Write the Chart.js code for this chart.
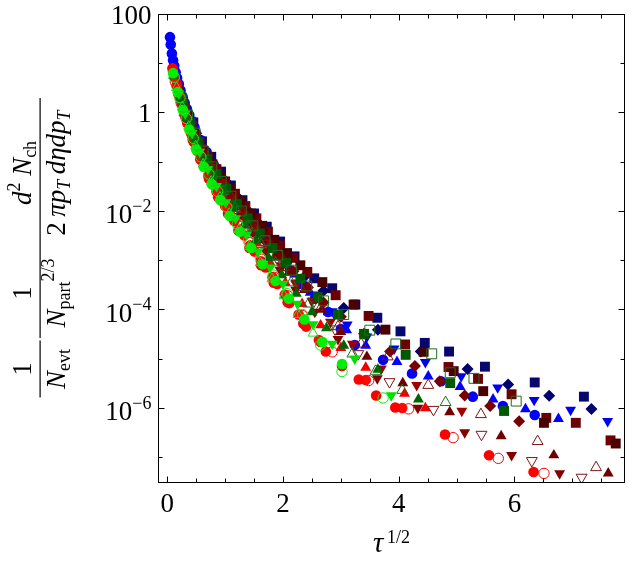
<!DOCTYPE html>
<html>
<head>
<meta charset="utf-8">
<script src="https://cdn.jsdelivr.net/npm/chart.js@4"></script>
<style>
  body { margin: 0; background: #fff; }
  canvas { display: block; }
</style>
</head>
<body>
<canvas id="chart" width="633" height="564"></canvas>
<script>
// tick positions and labels
const xTickValues = [0, 0.5, 1, 1.5, 2, 2.5, 3, 3.5, 4, 4.5, 5, 5.5, 6, 6.5, 7, 7.5];
const xTickLabels = [0, 2, 4, 6];
const yTickExps = [2, 1, 0, -1, -2, -3, -4, -5, -6, -7];
const yLabelExps = [2, 0, -2, -4, -6];

// [tau^(1/2), scaled yield]
const navySquare = [[0.45,0.63],[0.6,0.26],[0.76,0.126],[0.93,0.063],[1.1,0.033],[1.3,0.0166],[1.5,8.9e-3],[1.72,4.8e-3],[1.95,2.4e-3],[2.2,1.2e-3],[2.54,4.3e-4],[2.85,2.7e-4],[3.25,1.26e-4],[3.63,6.8e-5],[4.03,3.6e-5],[4.45,2.1e-5],[4.87,1.4e-5],[5.49,6.9e-6],[6.35,3.3e-6],[7.2,1.7e-6]];
const navyDiamond = [[0.35,1.0],[0.5,0.38],[0.66,0.166],[0.83,0.079],[1.01,0.04],[1.2,0.02],[1.4,0.01],[1.62,5.0e-3],[1.85,2.5e-3],[2.1,1.2e-3],[2.4,5.0e-4],[2.7,2.4e-4],[3.05,1.07e-4],[3.64,3.9e-5],[4.38,1.4e-5],[5.19,6.2e-6],[5.89,3.0e-6],[6.6,1.78e-6],[7.33,9.5e-7]];
const blueCircle = [[0.047,33.9],[0.06,24],[0.08,15.8],[0.1,11.5],[0.12,8.9],[0.145,6.6],[0.17,5.0],[0.2,3.8],[0.23,2.8],[0.265,2.1],[0.3,1.58],[0.34,1.18],[0.38,0.89],[0.42,0.67],[0.47,0.5],[0.57,0.28],[0.68,0.158],[0.8,0.089],[0.93,0.05],[1.07,0.028],[1.22,0.0158],[1.38,8.5e-3],[1.55,4.5e-3],[1.73,2.4e-3],[1.92,1.26e-3],[2.12,6.3e-4],[2.33,3.3e-4],[2.55,1.66e-4],[2.78,8.9e-5],[3.0,4.0e-5],[3.24,1.9e-5],[3.73,9.5e-6],[4.23,5.0e-6],[4.73,3.5e-6],[5.28,1.7e-6],[5.8,1.1e-6],[6.35,7.2e-7]];
const blueUp = [[0.1,7.9],[0.2,2.8],[0.32,1.12],[0.45,0.42],[0.6,0.178],[0.76,0.079],[0.93,0.04],[1.1,0.021],[1.3,0.0105],[1.5,5.2e-3],[1.72,2.5e-3],[1.95,1.2e-3],[2.2,5.2e-4],[2.47,2.2e-4],[2.78,8.9e-5],[3.1,3.8e-5],[3.43,1.86e-5],[3.97,8.7e-6],[4.51,4.4e-6],[5.06,2.7e-6],[5.63,1.5e-6],[6.19,9.5e-7],[6.76,6.0e-7]];
const blueDown = [[0.15,5.0],[0.27,1.78],[0.4,0.71],[0.55,0.28],[0.71,0.12],[0.88,0.056],[1.06,0.028],[1.25,0.014],[1.45,7.1e-3],[1.66,3.5e-3],[1.88,1.78e-3],[2.1,8.9e-4],[2.33,4.5e-4],[2.58,2.0e-4],[2.85,9.1e-5],[3.11,4.9e-5],[3.45,2.8e-5],[3.92,1.6e-5],[4.46,8.5e-6],[5.08,4.4e-6],[5.71,2.6e-6],[6.34,1.45e-6],[6.97,9.1e-7],[7.61,5.4e-7]];
const darkRedSquareA = [[0.3,1.26],[0.42,0.56],[0.56,0.25],[0.7,0.126],[0.85,0.071],[1.0,0.04],[1.17,0.0224],[1.35,0.0126],[1.54,7.1e-3],[1.74,3.8e-3],[1.95,2.0e-3],[2.18,1.12e-3],[2.42,5.8e-4],[2.91,1.95e-4],[3.48,7.4e-5],[4.11,1.95e-5],[4.86,6.8e-6],[5.37,3.9e-6],[5.95,1.9e-6],[6.55,6.3e-7],[7.06,5.0e-7],[7.66,2.2e-7]];
const darkRedSquareB = [[0.36,0.79],[0.49,0.355],[0.63,0.166],[0.78,0.089],[0.93,0.05],[1.09,0.028],[1.26,0.0158],[1.45,8.9e-3],[1.64,5.0e-3],[1.85,2.6e-3],[2.07,1.4e-3],[2.3,7.9e-4],[2.68,3.6e-4],[3.22,1.26e-4],[3.77,3.9e-5],[4.43,1.38e-5],[4.95,5.6e-6],[5.46,2.2e-6],[6.51,5.0e-7],[7.75,1.9e-7]];
const darkRedDiamond = [[0.2,3.2],[0.33,1.05],[0.47,0.38],[0.62,0.158],[0.78,0.076],[0.95,0.038],[1.13,0.019],[1.32,9.5e-3],[1.52,4.8e-3],[1.73,2.4e-3],[1.95,1.2e-3],[2.18,6.0e-4],[2.43,2.8e-4],[2.7,1.38e-4],[3.0,7.1e-5],[3.4,3.2e-5],[3.85,1.4e-5],[4.28,7.1e-6],[4.71,3.5e-6],[5.14,1.8e-6],[5.58,1.1e-6],[6.08,5.4e-7]];
const darkRedUp = [[0.12,6.3],[0.24,2.0],[0.37,0.71],[0.52,0.25],[0.68,0.105],[0.85,0.05],[1.03,0.025],[1.22,0.012],[1.42,5.6e-3],[1.63,2.6e-3],[1.86,1.2e-3],[2.1,5.6e-4],[2.37,2.5e-4],[2.67,1.0e-4],[3.0,3.5e-5],[3.45,1.1e-5],[4.07,3.2e-6],[4.88,8.3e-7],[5.77,2.7e-7],[6.68,1.1e-7],[7.62,4.7e-8]];
const darkRedDown1 = [[0.18,3.5],[0.3,1.26],[0.44,0.45],[0.59,0.178],[0.75,0.079],[0.92,0.038],[1.1,0.0178],[1.3,8.3e-3],[1.51,4.0e-3],[1.73,1.78e-3],[1.97,7.9e-4],[2.22,3.5e-4],[2.5,1.5e-4],[2.82,5.6e-5],[3.2,2.0e-5],[3.7,6.3e-6],[4.31,2.9e-6],[5.09,8.7e-7]];
const darkRedDown2 = [[0.26,1.58],[0.4,0.56],[0.55,0.21],[0.71,0.089],[0.88,0.04],[1.06,0.0178],[1.26,7.9e-3],[1.47,3.5e-3],[1.7,1.5e-3],[1.95,6.3e-4],[2.22,2.5e-4],[2.55,8.9e-5],[2.95,2.5e-5],[3.63,4.0e-6],[4.33,1.0e-6],[5.14,3.2e-7],[5.95,1.1e-7],[6.78,4.7e-8]];
const darkRedOpenUp = [[0.22,2.5],[0.36,0.83],[0.52,0.28],[0.7,0.105],[0.89,0.045],[1.09,0.02],[1.3,8.9e-3],[1.52,4.0e-3],[1.76,1.66e-3],[2.02,7.1e-4],[2.3,2.8e-4],[2.6,1.1e-4],[2.95,4.5e-5],[3.35,2.0e-5],[3.81,1.1e-5],[4.51,2.9e-6],[5.42,7.4e-7],[6.4,2.1e-7],[7.41,6.2e-8]];
const darkRedOpenDown = [[0.26,1.66],[0.41,0.56],[0.58,0.19],[0.77,0.076],[0.97,0.032],[1.19,0.0132],[1.42,5.6e-3],[1.67,2.2e-3],[1.94,8.9e-4],[2.23,3.3e-4],[2.55,1.2e-4],[2.9,4.0e-5],[3.3,1.26e-5],[3.84,3.4e-6],[4.6,9.3e-7],[5.43,2.9e-7],[6.3,8.5e-8],[7.16,3.9e-8]];
const redCircle1 = [[0.1,7.2],[0.16,3.5],[0.25,1.45],[0.35,0.6],[0.46,0.25],[0.58,0.112],[0.71,0.052],[0.85,0.025],[1.0,0.0126],[1.16,6.3e-3],[1.33,3.2e-3],[1.51,1.5e-3],[1.7,7.1e-4],[1.9,3.3e-4],[2.11,1.35e-4],[2.4,4.5e-5],[2.74,1.4e-5],[3.31,3.8e-6],[3.94,1.02e-6],[4.8,2.9e-7],[5.56,1.1e-7],[6.33,5.0e-8]];
const redCircle2 = [[0.13,5.0],[0.21,2.1],[0.3,0.89],[0.41,0.38],[0.52,0.166],[0.64,0.079],[0.78,0.035],[0.93,0.0166],[1.08,8.9e-3],[1.25,4.2e-3],[1.43,2.0e-3],[1.62,9.5e-4],[1.82,4.5e-4],[2.03,2.0e-4],[2.27,7.9e-5],[2.62,2.4e-5],[3.43,3.7e-6],[4.06,1.0e-6]];
const redCircle3 = [[0.09,7.9],[0.19,2.4],[0.32,0.76],[0.44,0.28],[0.57,0.112],[0.72,0.045],[0.88,0.019],[1.05,8.9e-3],[1.23,4.0e-3],[1.42,1.78e-3],[1.62,7.9e-4],[1.84,3.5e-4],[2.08,1.4e-4],[2.35,5.2e-5],[2.65,2.2e-5],[3.02,7.1e-6],[3.61,1.8e-6]];
const redOpenCircle = [[0.14,4.2],[0.24,1.58],[0.35,0.63],[0.47,0.25],[0.6,0.105],[0.74,0.048],[0.9,0.022],[1.06,0.0105],[1.24,5.0e-3],[1.43,2.3e-3],[1.63,1.05e-3],[1.85,4.5e-4],[2.08,1.9e-4],[2.33,7.6e-5],[2.85,1.38e-5],[3.48,3.6e-6],[4.17,9.6e-7],[4.94,2.5e-7],[5.72,9.5e-8],[6.51,4.7e-8]];
const redUp = [[0.19,2.8],[0.31,1.0],[0.45,0.355],[0.6,0.14],[0.76,0.06],[0.93,0.026],[1.12,0.012],[1.32,5.2e-3],[1.54,2.2e-3],[1.78,8.9e-4],[2.04,3.5e-4],[2.33,1.3e-4],[2.65,4.8e-5],[3.0,1.66e-5],[3.43,6.6e-6],[4.1,1.95e-6],[4.46,1.0e-6]];
const limeCircle = [[0.1,6.3],[0.18,2.6],[0.27,1.12],[0.38,0.45],[0.5,0.178],[0.63,0.079],[0.77,0.035],[0.92,0.0166],[1.08,7.9e-3],[1.26,3.8e-3],[1.45,1.78e-3],[1.65,8.3e-4],[1.87,3.8e-4],[2.1,1.66e-4],[2.37,6.3e-5],[2.68,2.2e-5],[3.02,7.8e-6]];
const limeOpenCircle = [[0.12,5.2],[0.22,2.0],[0.33,0.76],[0.45,0.3],[0.58,0.126],[0.72,0.056],[0.87,0.025],[1.03,0.012],[1.21,5.5e-3],[1.4,2.5e-3],[1.61,1.12e-3],[1.83,5.0e-4],[2.07,2.1e-4],[2.34,7.9e-5],[2.65,1.9e-5],[3.02,5.5e-6],[3.73,1.6e-6]];
const limeDown = [[0.2,2.4],[0.31,0.95],[0.43,0.38],[0.56,0.158],[0.7,0.071],[0.85,0.032],[1.01,0.015],[1.18,7.1e-3],[1.37,3.3e-3],[1.57,1.5e-3],[1.78,7.1e-4],[2.0,3.3e-4],[2.25,1.3e-4],[2.52,5.0e-5],[2.85,2.0e-5],[3.24,1.0e-5],[3.87,1.8e-6]];
const limeOpenUp = [[0.16,3.2],[0.26,1.3],[0.37,0.52],[0.49,0.21],[0.62,0.089],[0.76,0.04],[0.91,0.019],[1.07,8.9e-3],[1.24,4.2e-3],[1.42,1.9e-3],[1.61,8.9e-4],[1.81,4.2e-4],[2.02,1.9e-4],[2.26,7.9e-5],[2.52,3.3e-5]];
const darkGreenUp = [[0.11,5.6],[0.22,2.0],[0.34,0.76],[0.48,0.28],[0.63,0.112],[0.79,0.05],[0.96,0.024],[1.14,0.0112],[1.33,5.2e-3],[1.53,2.5e-3],[1.75,1.12e-3],[1.98,5.0e-4],[2.23,2.1e-4],[2.5,8.9e-5],[2.75,4.2e-5],[3.05,1.86e-5],[3.64,6.0e-6],[4.34,1.5e-6]];
const darkGreenSquare = [[0.28,1.4],[0.4,0.6],[0.54,0.25],[0.69,0.112],[0.85,0.056],[1.02,0.028],[1.2,0.014],[1.39,7.1e-3],[1.6,3.5e-3],[1.82,1.78e-3],[2.05,8.9e-4],[2.3,4.2e-4],[2.6,1.78e-4],[2.95,7.9e-5],[3.4,3.2e-5],[4.12,1.2e-5],[4.89,3.2e-6],[5.82,8.7e-7]];
const darkGreenOpenSquare = [[0.24,2.0],[0.35,0.89],[0.48,0.38],[0.62,0.166],[0.77,0.079],[0.93,0.04],[1.1,0.02],[1.28,0.01],[1.48,5.0e-3],[1.69,2.5e-3],[1.91,1.26e-3],[2.15,6.3e-4],[2.41,3.0e-4],[2.7,1.5e-4],[3.05,7.9e-5],[3.5,3.8e-5],[3.95,2.0e-5],[4.57,1.26e-5],[4.89,5.2e-6],[5.3,4.0e-6],[6.03,1.38e-6]];
const darkGreenOpenUp = [[0.3,1.0],[0.44,0.355],[0.6,0.132],[0.78,0.056],[0.97,0.025],[1.17,0.0112],[1.39,5.0e-3],[1.62,2.1e-3],[1.87,8.9e-4],[2.14,3.5e-4],[2.44,1.3e-4],[2.78,4.5e-5],[3.2,1.26e-5],[3.6,5.6e-6],[4.06,2.3e-6],[4.81,1.3e-6]];

// first in list ends up on top
const series = [
  { data: limeOpenUp, color: '#22dd22', shape: 'triangle', open: true, r: 5.8 },
  { data: limeOpenCircle, color: '#11ee11', shape: 'circle', open: true, r: 5.2 },
  { data: limeDown, color: '#00e000', shape: 'down', r: 6.3 },
  { data: limeCircle, color: '#00f000', shape: 'circle', r: 5.3 },
  { data: darkGreenOpenUp, color: '#1e6e1e', shape: 'triangle', open: true, r: 6.3 },
  { data: darkGreenOpenSquare, color: '#1e6e1e', shape: 'rect', open: true, r: 7 },
  { data: darkGreenUp, color: '#006400', shape: 'triangle', r: 6.3 },
  { data: darkGreenSquare, color: '#005800', shape: 'rect', r: 7 },
  { data: redOpenCircle, color: '#ff0000', shape: 'circle', open: true, r: 5.2 },
  { data: redCircle1, color: '#ff0000', shape: 'circle', r: 5.3 },
  { data: redCircle2, color: '#ff0a0a', shape: 'circle', r: 5.3 },
  { data: redCircle3, color: '#f80000', shape: 'circle', r: 5.3 },
  { data: redUp, color: '#ee0000', shape: 'triangle', r: 6.3 },
  { data: darkRedOpenDown, color: '#7a1616', shape: 'down', open: true, r: 6.3 },
  { data: darkRedOpenUp, color: '#7a1616', shape: 'triangle', open: true, r: 6.3 },
  { data: darkRedDown2, color: '#820000', shape: 'down', r: 6.3 },
  { data: darkRedDown1, color: '#a00000', shape: 'down', r: 6.3 },
  { data: darkRedUp, color: '#700000', shape: 'triangle', r: 6.3 },
  { data: darkRedDiamond, color: '#780000', shape: 'rectRot', r: 6 },
  { data: darkRedSquareB, color: '#4a0000', shape: 'rect', r: 7 },
  { data: darkRedSquareA, color: '#6c0000', shape: 'rect', r: 7 },
  { data: blueUp, color: '#0000ff', shape: 'triangle', r: 6.3 },
  { data: blueDown, color: '#0000f0', shape: 'down', r: 6.3 },
  { data: blueCircle, color: '#0000ff', shape: 'circle', r: 5.3 },
  { data: navyDiamond, color: '#00006e', shape: 'rectRot', r: 6 },
  { data: navySquare, color: '#07076e', shape: 'rect', r: 7 }
];

const datasets = series.map(s => ({
  data: s.data.map(p => ({ x: p[0], y: p[1] })),
  pointStyle: s.shape === 'down' ? 'triangle' : s.shape,
  rotation: s.shape === 'down' ? 180 : 0,
  pointRadius: s.r,
  backgroundColor: s.open ? 'rgba(0,0,0,0)' : s.color,
  borderColor: s.color,
  borderWidth: s.open ? 1 : 0
}));

const SERIF = '"Liberation Serif", "DejaVu Serif", serif';

function runWidth(ctx, parts) {
  let w = 0;
  for (const p of parts) { ctx.font = p[1]; w += ctx.measureText(p[0]).width; }
  return w;
}
function drawRun(ctx, parts, u, v) {
  for (const p of parts) {
    ctx.font = p[1];
    ctx.fillText(p[0], u, v + (p[2] || 0));
    u += ctx.measureText(p[0]).width;
  }
}

const big = '27px ' + SERIF;
const bigIt = 'italic 27px ' + SERIF;
const sm = '18px ' + SERIF;
const smIt = 'italic 18px ' + SERIF;

// draws a rotated fraction; cy is the screen y of its middle
function fraction(ctx, num, den, cy, barLen) {
  const wn = runWidth(ctx, num);
  const wd = runWidth(ctx, den);
  drawRun(ctx, num, -cy - wn / 2, 31);
  ctx.fillRect(-cy - barLen / 2, 39.5, barLen, 1.2);
  drawRun(ctx, den, -cy - wd / 2, 65);
}

const framePlugin = {
  id: 'frame',
  afterDatasetsDraw(chart) {
    const { ctx, chartArea: a, scales } = chart;
    const xs = scales.x, ys = scales.y;
    ctx.save();
    ctx.strokeStyle = '#000';
    ctx.fillStyle = '#000';
    ctx.lineWidth = 1;
    const L = Math.round(a.left) + 0.5, R = Math.round(a.right) - 0.5;
    const T = Math.round(a.top) + 0.5, B = Math.round(a.bottom) - 0.5;
    ctx.strokeRect(L, T, R - L, B - T);

    ctx.beginPath();
    for (const v of xTickValues) {
      const px = Math.round(xs.getPixelForValue(v)) + 0.5;
      const len = xTickLabels.includes(v) ? 6 : 4;
      ctx.moveTo(px, B); ctx.lineTo(px, B - len);
      ctx.moveTo(px, T); ctx.lineTo(px, T + len);
    }
    for (const e of yTickExps) {
      const py = Math.round(ys.getPixelForValue(Math.pow(10, e))) + 0.5;
      const len = yLabelExps.includes(e) ? 6 : 4;
      ctx.moveTo(L, py); ctx.lineTo(L + len, py);
      ctx.moveTo(R, py); ctx.lineTo(R - len, py);
    }
    ctx.stroke();

    // x tick labels
    ctx.font = big;
    ctx.textAlign = 'center';
    ctx.textBaseline = 'alphabetic';
    for (const v of xTickLabels) {
      ctx.fillText(String(v), xs.getPixelForValue(v), 512);
    }

    // y tick labels, with superscript exponents
    const right = a.left - 6.5;
    for (const e of yLabelExps) {
      const py = ys.getPixelForValue(Math.pow(10, e));
      if (e === 2 || e === 0) {
        ctx.font = big;
        ctx.textAlign = 'right';
        ctx.fillText(e === 2 ? '100' : '1', right, py + 9.5);
      } else {
        const sup = '\u2212' + Math.abs(e);
        ctx.font = sm;
        const ws = ctx.measureText(sup).width;
        ctx.textAlign = 'left';
        ctx.fillText(sup, right - ws, py + 1);
        ctx.font = big;
        ctx.textAlign = 'right';
        ctx.fillText('10', right - ws, py + 12.5);
      }
    }

    // x axis title
    ctx.textAlign = 'left';
    const tau = [['\u03c4', 'italic 29px ' + SERIF], ['\u20091/2', sm, -9]];
    const tw = runWidth(ctx, tau);
    drawRun(ctx, tau, (a.left + a.right) / 2 - tw / 2, 552);

    // y axis title, rotated
    ctx.save();
    ctx.rotate(-Math.PI / 2);
    ctx.textAlign = 'left';
    fraction(ctx, [['1', big]], [['N', bigIt], ['evt', sm, 5]], 369, 57);
    fraction(ctx, [['1', big]], [['N', bigIt], ['part', sm, 5], ['2/3', sm, -11]], 293, 90);
    fraction(ctx,
      [['d', bigIt], ['2', sm, -11], [' N', bigIt], ['ch', sm, 5]],
      [['2\u2009', big], ['\u03c0', bigIt], ['p', bigIt], ['T', smIt, 5], ['\u2009d', bigIt], ['\u03b7', bigIt], ['d', bigIt], ['p', bigIt], ['T', smIt, 5]],
      173, 150);
    ctx.restore();

    ctx.restore();
  }
};

new Chart(document.getElementById('chart'), {
  type: 'scatter',
  data: { datasets },
  options: {
    responsive: false,
    animation: false,
    devicePixelRatio: 1,
    layout: { padding: { left: 158, right: 7, top: 14, bottom: 81 } },
    plugins: { legend: { display: false }, tooltip: { enabled: false } },
    scales: {
      x: { type: 'linear', min: -0.16, max: 7.91, display: false },
      y: { type: 'logarithmic', min: 3.35e-8, max: 100, display: false }
    }
  },
  plugins: [framePlugin]
});
</script>
</body>
</html>
